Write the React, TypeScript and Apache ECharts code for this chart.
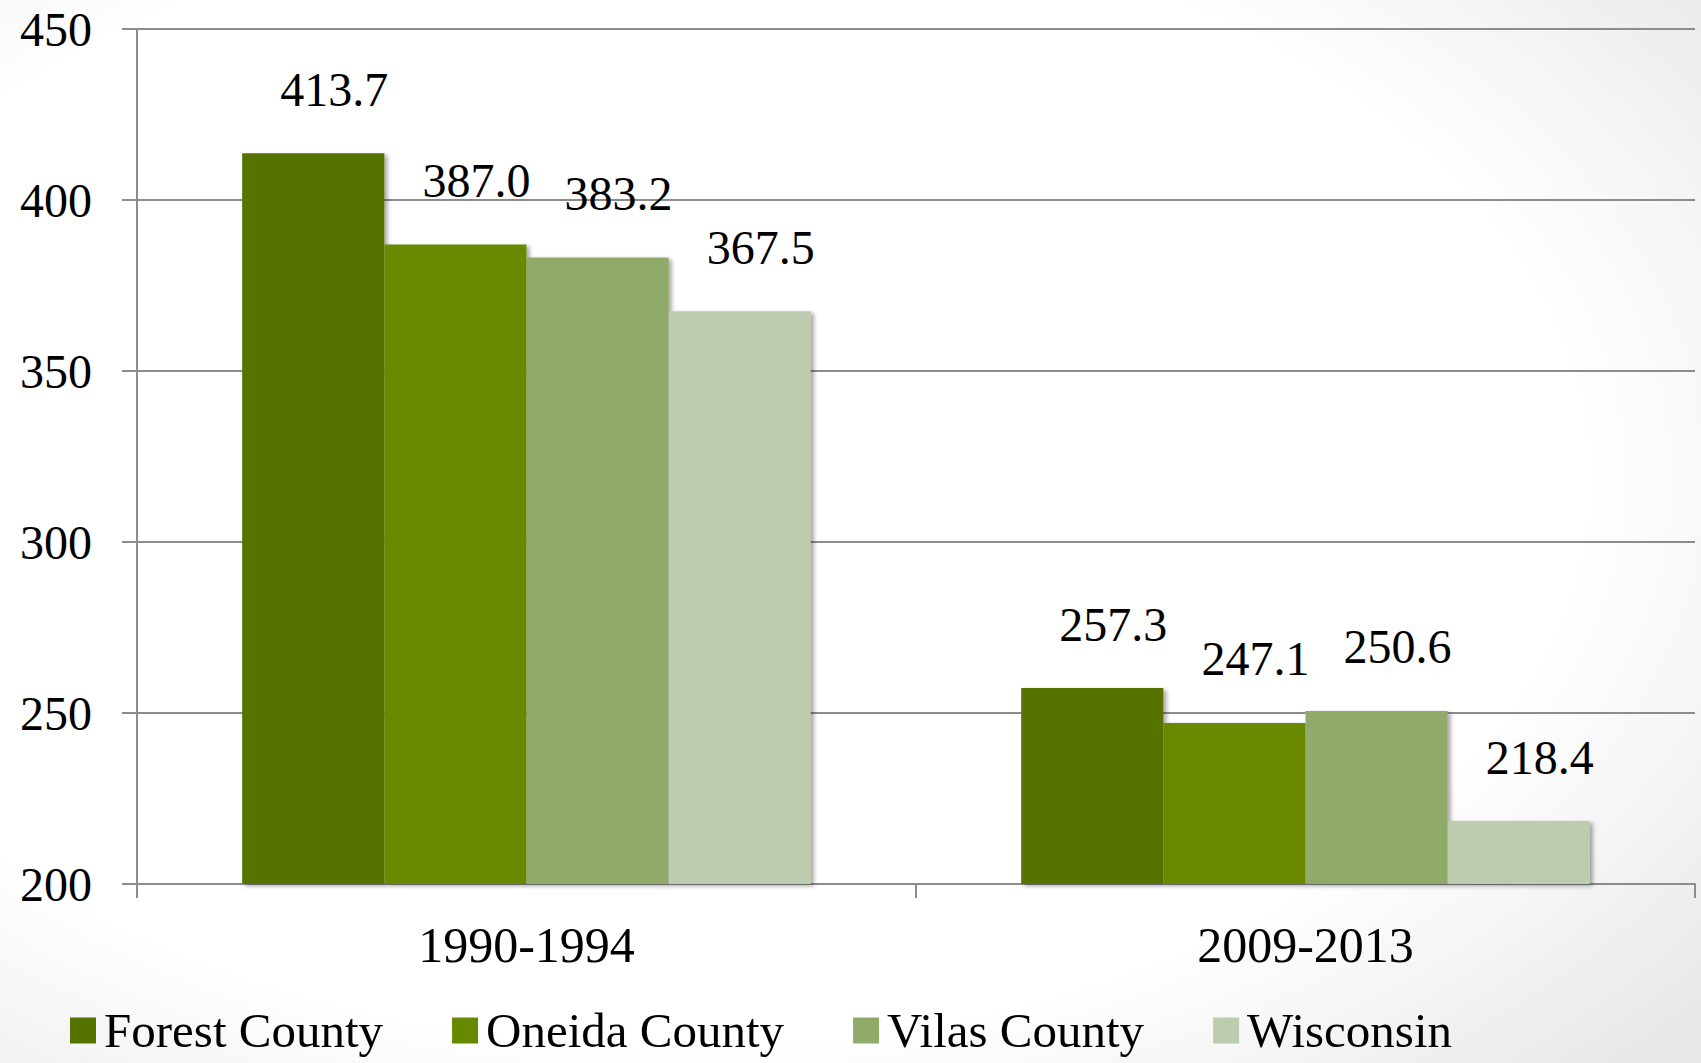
import React, { useEffect, useRef } from "react";
import * as echarts from "echarts";

const categories = ["1990-1994", "2009-2013"];
const seriesNames = ["Forest County", "Oneida County", "Vilas County", "Wisconsin"];
const forestValues = [413.7, 257.3];
const oneidaValues = [387.0, 247.1];
const vilasValues = [383.2, 250.6];
const wisconsinValues = [367.5, 218.4];
const seriesColors = ["#567300", "#678900", "#90aa69", "#bdcbaf"];
const yTicks = { min: 200, max: 450, interval: 50 };

const FONT = "Liberation Serif";

export default function App() {
  const ref = useRef<HTMLDivElement>(null);

  useEffect(() => {
    document.body.style.margin = "0";
    if (!ref.current) return;
    const chart = echarts.init(ref.current, null, { renderer: "svg" });
    const allValues = [forestValues, oneidaValues, vilasValues, wisconsinValues];
    chart.setOption({
      animation: false,
      graphic: [
        {
          type: "rect",
          z: -10,
          silent: true,
          shape: { x: 0, y: 0, width: 1701, height: 1063 },
          style: {
            fill: new echarts.graphic.RadialGradient(0.4, 0.45, 0.78, [
              { offset: 0, color: "#ffffff" },
              { offset: 0.68, color: "#ffffff" },
              { offset: 1, color: "#e8e8e8" },
            ]),
          },
        },
      ],
      grid: { left: 137, right: 6, top: 29, bottom: 179, containLabel: false },
      legend: {
        data: seriesNames,
        left: 65,
        top: 1001,
        itemWidth: 26,
        itemHeight: 26,
        itemGap: 69,
        icon: "rect",
        textStyle: {
          fontFamily: FONT,
          fontSize: 49,
          color: "#000",
          padding: [0, 0, 0, 3],
        },
      },
      xAxis: {
        type: "category",
        data: categories,
        axisLine: { lineStyle: { color: "#8c8c8c", width: 2 } },
        axisTick: { show: true, length: 14, lineStyle: { color: "#8c8c8c", width: 2 } },
        axisLabel: { fontFamily: FONT, fontSize: 50, color: "#000", margin: 36 },
      },
      yAxis: {
        type: "value",
        min: yTicks.min,
        max: yTicks.max,
        interval: yTicks.interval,
        axisLine: { show: true, lineStyle: { color: "#8c8c8c", width: 2 } },
        axisTick: { show: true, length: 15, lineStyle: { color: "#8c8c8c", width: 2 } },
        splitLine: { show: true, lineStyle: { color: "#8c8c8c", width: 2 } },
        axisLabel: { fontFamily: FONT, fontSize: 48, color: "#000", margin: 45 },
      },
      series: seriesNames.map((name, i) => ({
        name,
        type: "bar",
        data: allValues[i],
        barGap: "0%",
        barCategoryGap: "27%",
        itemStyle: {
          color: seriesColors[i],
          shadowBlur: 4,
          shadowOffsetX: 3,
          shadowOffsetY: 2,
          shadowColor: "rgba(0,0,0,0.35)",
        },
        label: {
          show: true,
          position: "top",
          distance: 40,
          offset: [21, 0],
          fontFamily: FONT,
          fontSize: 48,
          color: "#000",
          formatter: (p: any) => Number(p.value).toFixed(1),
        },
      })),
    });
    return () => chart.dispose();
  }, []);

  return <div ref={ref} style={{ width: 1701, height: 1063 }} />;
}
